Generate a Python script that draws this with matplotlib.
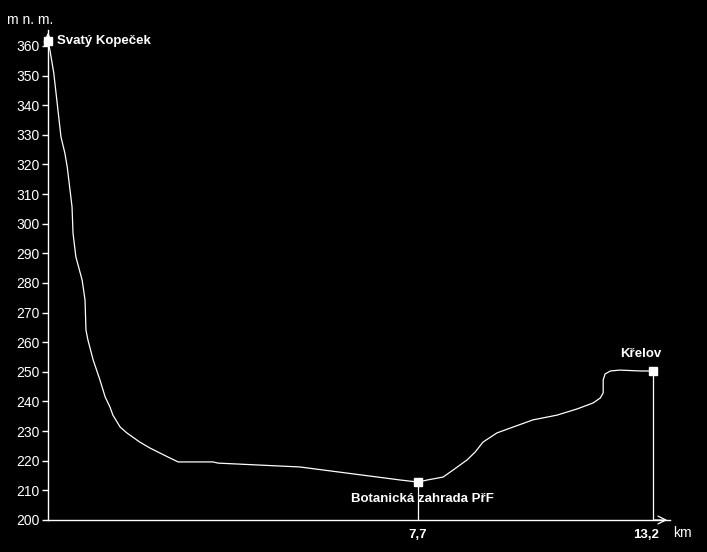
import matplotlib.pyplot as plt

# Elevation profile (km along chart, m n. m.)
km = [0, 0.04, 0.12, 0.27, 0.35, 0.40, 0.50, 0.52, 0.58, 0.71, 0.77, 0.79, 0.83,
      0.94, 1.08, 1.19, 1.29, 1.35, 1.50, 1.64, 1.91, 2.12, 2.33, 2.54, 2.71,
      3.43, 3.54, 5.24, 7.33, 7.70, 7.89, 8.22, 8.43, 8.72, 8.89, 9.05, 9.34,
      9.68, 10.09, 10.59, 11.01, 11.34, 11.49, 11.55, 11.55, 11.59, 11.70, 11.90,
      12.32, 12.59]
alt = [361.7, 358.6, 350.9, 329.3, 323.9, 319.2, 305.7, 296.9, 288.8, 281.0, 274.3,
       264.1, 260.8, 254.0, 247.3, 241.5, 238.1, 235.4, 231.4, 229.4, 226.3, 224.3,
       222.6, 220.9, 219.6, 219.6, 219.2, 217.9, 213.5, 212.8, 213.5, 214.5, 216.9,
       220.3, 223.0, 226.3, 229.4, 231.4, 233.8, 235.4, 237.5, 239.5, 241.2, 242.9,
       247.3, 249.3, 250.3, 250.6, 250.3, 250.3]

# Named points
place_names = ["Svatý Kopeček", "Botanická zahrada PřF", "Křelov"]
place_km = [0, 7.70, 12.59]
place_alt = [361.7, 212.8, 250.3]
km_labels = ["7,7", "13,2"]

yticks = list(range(200, 361, 10))

fig = plt.figure(figsize=(7.07, 5.52), dpi=100, facecolor="black")
W, H = 707, 552
ax = fig.add_axes([48 / W, 32 / H, (670 - 48) / W, (520 - 30) / H])
ax.set_facecolor("black")

ax.plot(km, alt, color="white", lw=0.9)
ax.plot(place_km, place_alt, "s", color="white", ms=6, clip_on=False)

# drop lines for the named points on the x axis
for x, y in zip(place_km[1:], place_alt[1:]):
    ax.plot([x, x], [200, y], color="white", lw=0.9)

ax.set_xlim(0, 12.94)
ax.set_ylim(200, 365.4)

for s in ["top", "right"]:
    ax.spines[s].set_visible(False)
for s in ["left", "bottom"]:
    ax.spines[s].set_color("white")
    ax.spines[s].set_linewidth(1.0)

ax.set_yticks(yticks)
ax.tick_params(axis="y", colors="white", length=4, width=1, labelsize=10, pad=2)
ax.set_xticks([])
for lab in ax.get_yticklabels():
    lab.set_family("Liberation Sans")

# arrow heads
ax.annotate("", xy=(0, 1.0), xytext=(0, 0.97), xycoords="axes fraction",
            arrowprops=dict(arrowstyle="->", color="white", lw=0.9,
                            mutation_scale=14), annotation_clip=False)
ax.annotate("", xy=(1.0, 0), xytext=(0.97, 0), xycoords="axes fraction",
            arrowprops=dict(arrowstyle="->", color="white", lw=0.9,
                            mutation_scale=14), annotation_clip=False)

font = dict(color="white", family="Liberation Sans")

# place labels
ax.text(place_km[0] + 0.18, place_alt[0], place_names[0], ha="left", va="center",
        fontsize=9.5, fontweight="bold", **font)
ax.text(place_km[1] + 0.1, 207, place_names[1], ha="center", va="center",
        fontsize=9.5, fontweight="bold", **font)
ax.text(place_km[2] - 0.25, 256, place_names[2], ha="center", va="center",
        fontsize=9.5, fontweight="bold", **font)

# x labels
ax.text(place_km[1], 195, km_labels[0], ha="center", va="center",
        fontsize=9.5, fontweight="bold", **font)
ax.text(place_km[2] - 0.15, 195, km_labels[1], ha="center", va="center",
        fontsize=9.5, fontweight="bold", **font)
fig.text(682 / W, 1 - 533 / H, "km", ha="center", va="center", fontsize=10, **font)
fig.text(30 / W, 1 - 20 / H, "m n. m.", ha="center", va="center", fontsize=10, **font)

fig.savefig("out.png", dpi=100, facecolor="black")
